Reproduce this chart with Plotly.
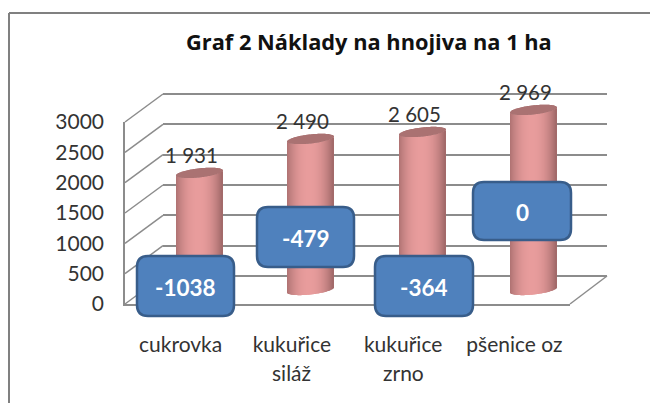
import math
import plotly.graph_objects as go

# ---- data ----
title = "Graf 2 Náklady na hnojiva na 1 ha"
categories = ["cukrovka", "kukuřice", "kukuřice", "pšenice oz"]
categories_line2 = ["", "siláž", "zrno", ""]
values = [1931, 2490, 2605, 2969]
differences = [-1038, -479, -364, 0]
y_ticks = [0, 500, 1000, 1500, 2000, 2500, 3000]

# ---- layout constants (pixels in the 650x403 window) ----
W, H = 650, 403
FONT = "Lato, 'Open Sans', sans-serif"
TITLE_FONT = "'Open Sans', Lato, sans-serif"
TEXT = "#333333"
GRID = "#8c8c8c"
PX = 182 / 3000          # pixels per value unit
PAD = 100                # hidden scale padding so that end grid lines are kept
px = lambda x: x / W
py = lambda y: 1 - y / H
xdom = lambda a, b: [px(a), px(b)]
ydom = lambda bottom, top: [py(bottom), py(top)]

fig = go.Figure()

# back wall: carries the horizontal grid lines (drawn first, beneath everything)
fig.add_trace(go.Scatter(x=[0], y=[0], mode="markers", marker=dict(opacity=0),
                         hoverinfo="skip", showlegend=False, xaxis="x", yaxis="y"))
# front wall: carries tick labels
fig.add_trace(go.Scatter(x=[0, 1, 2, 3], y=[0, 0, 0, 0], mode="markers", marker=dict(opacity=0),
                         hoverinfo="skip", showlegend=False, xaxis="x2", yaxis="y2"))


def shade(u):
    """Horizontal cylinder shading, u in -1..1."""
    t = min(1.0, abs(u + 0.05) / 1.05) ** 2.2
    c0, c1 = (232, 156, 156), (160, 104, 104)
    return "rgb(%d,%d,%d)" % tuple(round(a + (b - a) * t) for a, b in zip(c0, c1))


# cylinders built of thin strips so that shading and rounded ends come from bars
STRIPS = 46
HALF = 23 / (445 / 4)     # half a cylinder width in category units
ELL = 4.5 / PX            # ellipse half height in value units
TILT = 2.5 / PX           # slant of the ellipses
xs, bases, heights, colors = [], [], [], []
cap_base, cap_h = [], []
for i, v in enumerate(values):
    for k in range(STRIPS):
        u = -1 + (2 * k + 1) / STRIPS
        e = ELL * math.sqrt(1 - u * u)
        xs.append(i + u * HALF)
        bottom = TILT * u - e
        top = v + TILT * u - e
        bases.append(bottom)
        heights.append(top - bottom)
        colors.append(shade(u))
        cap_base.append(top)
        cap_h.append(2 * e)

strip_w = 2 * HALF / STRIPS * 1.05
fig.add_trace(go.Bar(x=xs, y=heights, base=bases, width=strip_w,
                     marker=dict(color=colors, line=dict(width=0)),
                     hoverinfo="skip", showlegend=False, xaxis="x3", yaxis="y3"))
fig.add_trace(go.Bar(x=xs, y=cap_h, base=cap_base, width=strip_w,
                     marker=dict(color="#aa7272", line=dict(width=0)),
                     hoverinfo="skip", showlegend=False, xaxis="x3", yaxis="y3"))

# ---- 3D frame: diagonals joining front wall and back wall ----
shapes = []
for t in y_ticks:
    yf = 304 - t * PX
    shapes.append(dict(type="line", xref="paper", yref="paper", layer="below",
                       x0=px(125), y0=py(yf), x1=px(163), y1=py(yf - 28),
                       line=dict(color=GRID, width=1.5)))
shapes.append(dict(type="line", xref="paper", yref="paper", layer="below",
                   x0=px(570), y0=py(304), x1=px(607), y1=py(276),
                   line=dict(color=GRID, width=1.5)))
# outer frame (top and left edges visible)
shapes.append(dict(type="line", xref="paper", yref="paper", x0=px(9), x1=1, y0=py(13), y1=py(13),
                   line=dict(color="#808080", width=2)))
shapes.append(dict(type="line", xref="paper", yref="paper", x0=px(9), x1=px(9), y0=py(13), y1=0,
                   line=dict(color="#808080", width=2)))

# ---- rounded callouts ----
boxes = [(137, 256, 234, 316), (257, 207, 354, 267), (375, 256, 473, 316), (473, 182, 571, 240)]
annotations = []


def rounded(x0, y0, x1, y1, r=11):
    X, Y = px, py
    return (f"M{X(x0+r)},{Y(y0)} L{X(x1-r)},{Y(y0)} Q{X(x1)},{Y(y0)} {X(x1)},{Y(y0+r)} "
            f"L{X(x1)},{Y(y1-r)} Q{X(x1)},{Y(y1)} {X(x1-r)},{Y(y1)} "
            f"L{X(x0+r)},{Y(y1)} Q{X(x0)},{Y(y1)} {X(x0)},{Y(y1-r)} "
            f"L{X(x0)},{Y(y0+r)} Q{X(x0)},{Y(y0)} {X(x0+r)},{Y(y0)} Z")


for d, (x0, y0, x1, y1) in zip(differences, boxes):
    shapes.append(dict(type="path", xref="paper", yref="paper", layer="above",
                       path=rounded(x0, y0, x1, y1), fillcolor="#4f81bd",
                       line=dict(color="#385d8a", width=2.5)))
    annotations.append(dict(xref="paper", yref="paper", x=px((x0 + x1) / 2), y=py((y0 + y1) / 2 + 1),
                            xanchor="center", yanchor="middle",
                            text=f"<b>{d}</b>", showarrow=False,
                            font=dict(family=FONT, size=22.5, color="white")))

# ---- data labels over the cylinders ----
for i, v in enumerate(values):
    annotations.append(dict(xref="x3", yref="y3", x=i, y=v, xshift=-8, yshift=18,
                            xanchor="center", yanchor="middle",
                            text=f"{v:,}".replace(",", " "), showarrow=False,
                            font=dict(family=FONT, size=20.5, color=TEXT)))

# second line of the category labels
for i, t in enumerate(categories_line2):
    if t:
        annotations.append(dict(xref="x2", yref="paper", x=i, y=py(372), text=t, showarrow=False,
                                xanchor="center", yanchor="middle",
                                font=dict(family=FONT, size=21, color=TEXT)))

# title
annotations.append(dict(xref="paper", yref="paper", x=px(369), y=py(42), text=f"<b>{title}</b>",
                        xanchor="center", yanchor="middle",
                        showarrow=False, font=dict(family=TITLE_FONT, size=21.8, color="#111111")))

hidden_x = dict(range=[-0.5, 3.5], showgrid=False, showticklabels=False, ticks="", zeroline=False,
                automargin=False)

fig.update_layout(
    width=W, height=H, margin=dict(l=0, r=0, t=0, b=0), autosize=False,
    paper_bgcolor="white", plot_bgcolor="rgba(0,0,0,0)", barmode="overlay", showlegend=False,
    shapes=shapes, annotations=annotations,
    xaxis=dict(domain=xdom(163, 607), anchor="y", **hidden_x),
    yaxis=dict(domain=ydom(276 + PAD * PX, 94 - PAD * PX), anchor="x", range=[-PAD, 3000 + PAD],
               tickvals=y_ticks, showticklabels=False, showgrid=True, gridcolor=GRID, gridwidth=1.5,
               zeroline=False, showline=False, ticks="", automargin=False),
    xaxis2=dict(domain=xdom(125, 570), anchor="y2", range=[-0.5, 3.5], tickvals=[0, 1, 2, 3],
                ticktext=categories, showgrid=False, zeroline=False, showline=True,
                linecolor=GRID, linewidth=1.5, ticks="", ticklabelstandoff=21, automargin=False,
                tickfont=dict(family=FONT, size=21, color=TEXT), tickangle=0),
    yaxis2=dict(domain=ydom(304, 122), anchor="x2", range=[0, 3000], tickvals=y_ticks,
                ticktext=[str(t) for t in y_ticks], showgrid=False, zeroline=False, showline=True,
                linecolor=GRID, linewidth=1.5, ticks="", ticklabelstandoff=15, automargin=False,
                tickfont=dict(family=FONT, size=21, color=TEXT)),
    xaxis3=dict(domain=xdom(144, 589), anchor="y3", **hidden_x),
    # the hidden scale reaches past 0 and 3000 so rounded cylinder ends are not cut off
    yaxis3=dict(domain=ydom(290 + 250 * PX, 290 - 3300 * PX), anchor="x3", range=[-250, 3300],
                showgrid=False, showticklabels=False, zeroline=False, ticks="", automargin=False),
)

fig.write_html("out.html", config=dict(displayModeBar=False),
               post_script="document.body.style.margin='0';")
